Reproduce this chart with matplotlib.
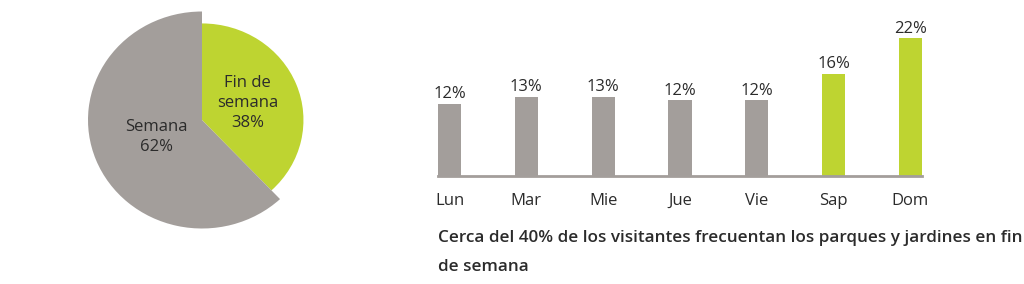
import numpy as np
import matplotlib
matplotlib.use('Agg')
import matplotlib.pyplot as plt

# data
pie_labels = ['Fin de\nsemana', 'Semana']
pie_values = [38, 62]
days = ['Lun', 'Mar', 'Mie', 'Jue', 'Vie', 'Sap', 'Dom']
day_values = [11.6, 12.7, 12.7, 12.1, 12.1, 16.4, 22.1]
weekend = [False, False, False, False, False, True, True]
caption = 'Cerca del 40% de los visitantes frecuentan los parques y jardines en fin\nde semana'

GRAY = '#a39e9b'
GREEN = '#bed431'
TEXT = '#2b2b2b'

plt.rcParams['font.family'] = ['Open Sans', 'DejaVu Sans']

W, H = 1024, 284
fig = plt.figure(figsize=(W / 100, H / 100), dpi=100)

# pie (slightly wider than tall, like the original)
cx, cy, rx, ry = 202, 120, 114, 108.5
ax1 = fig.add_axes([(cx - 1.1 * rx) / W, (H - cy - 1.1 * ry) / H, 2.2 * rx / W, 2.2 * ry / H])
wedges, _ = ax1.pie(pie_values, colors=[GREEN, GRAY], startangle=90, counterclock=False,
                    wedgeprops=dict(linewidth=0))
wedges[0].set_radius(0.89)
ax1.set_xlim(-1.1, 1.1)
ax1.set_ylim(-1.1, 1.1)
ax1.set_aspect('auto')
ax1.axis('off')
for w, lab, v in zip(wedges, pie_labels, pie_values):
    ang = np.deg2rad((w.theta1 + w.theta2) / 2)
    ax1.text(0.43 * np.cos(ang), 0.43 * np.sin(ang), f'{lab}\n{v}%', ha='center', va='center',
             fontsize=12, color=TEXT, linespacing=1.35)

# bars
ax2 = fig.add_axes([438 / W, 108 / H, 484 / W, 156 / H])
x = np.arange(len(days))
colors = [GREEN if w else GRAY for w in weekend]
bars = ax2.bar(x, day_values, width=0.3, color=colors)
for b, v in zip(bars, day_values):
    ax2.annotate(f'{round(v)}%', (b.get_x() + b.get_width() / 2, v), xytext=(0, 1),
                 textcoords='offset points', ha='center', va='bottom', fontsize=12,
                 color=TEXT, annotation_clip=False)
ax2.set_xlim(-0.15, 6.15)
ax2.set_ylim(0, 25)
ax2.set_xticks(x)
ax2.set_xticklabels(days, fontsize=12, color=TEXT)
ax2.tick_params(axis='x', length=0, pad=12)
ax2.set_yticks([])
for s in ['top', 'right', 'left']:
    ax2.spines[s].set_visible(False)
ax2.spines['bottom'].set_color(GRAY)
ax2.spines['bottom'].set_linewidth(2)

fig.text(438 / W, 1 - 230 / H, caption, ha='left', va='top', fontsize=12.3, fontweight='semibold',
         color=TEXT, linespacing=2.05)

fig.savefig('out.png', dpi=100, facecolor='white')
